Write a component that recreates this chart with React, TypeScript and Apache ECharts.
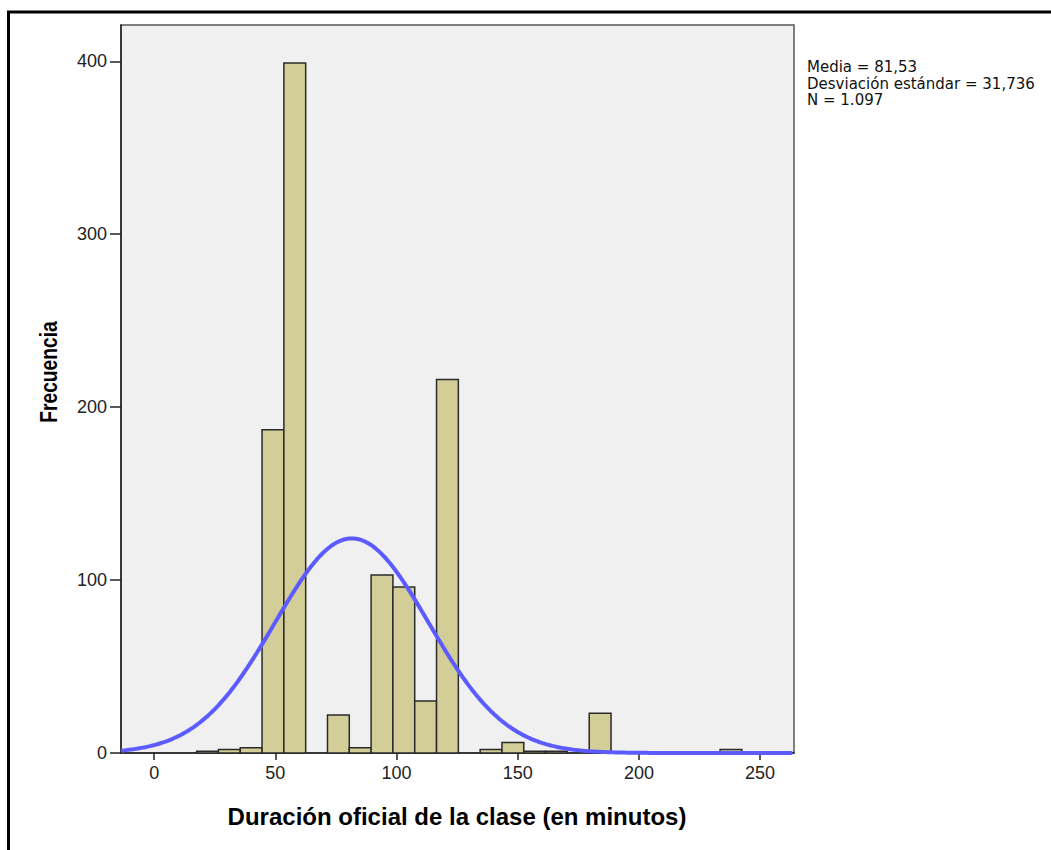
import React, { useEffect, useRef } from "react";
import * as echarts from "echarts";

// Histogram bins (lower edge, bin width 9 minutes) and frequencies
const binStarts = [17.5, 26.5, 35.5, 44.5, 53.5, 62.5, 71.5, 80.5, 89.5, 98.5, 107.5, 116.5, 125.5, 134.5, 143.5, 152.5, 161.5, 170.5, 179.5, 233.5];
const frequencies = [1, 2, 3, 187, 399, 0, 22, 3, 103, 96, 30, 216, 0, 2, 6, 1, 1, 0, 23, 2];
const BIN_WIDTH = 9;

// Summary statistics shown in the chart
const MEAN = 81.53;
const SD = 31.736;
const N = 1097;

const xTicks = [0, 50, 100, 150, 200, 250];
const yTicks = [0, 100, 200, 300, 400];

const X_MIN = -13.7;
const X_MAX = 264;
const Y_MAX = 421;

const statsLines = ["Media = 81,53", "Desviación estándar = 31,736", "N = 1.097"];

const FONT = '"Liberation Sans", Arial, sans-serif';

export default function App() {
  const ref = useRef<HTMLDivElement>(null);

  useEffect(() => {
    if (!ref.current) return;
    const chart = echarts.init(ref.current, null, { renderer: "svg" });

    const barData = binStarts.map((s, i) => [s, s + BIN_WIDTH, frequencies[i]]);

    // fitted normal curve from the stated mean / sd / N
    const curve: number[][] = [];
    for (let x = X_MIN; x <= X_MAX + 0.001; x += 1) {
      const z = (x - MEAN) / SD;
      const y = (N * BIN_WIDTH) / (SD * Math.sqrt(2 * Math.PI)) * Math.exp(-0.5 * z * z);
      curve.push([x, y]);
    }

    const statsTexts = statsLines.map((t, i) => ({
      type: "text",
      x: 807,
      y: 59 + i * 16.5,
      style: {
        text: t,
        font: '15px "DejaVu Sans", sans-serif',
        lineHeight: 16,
        fill: "#111",
        textAlign: "left",
        textVerticalAlign: "top",
      },
    }));

    chart.setOption({
      animation: false,
      backgroundColor: "#ffffff",
      grid: {
        left: 121,
        top: 25,
        width: 673,
        height: 728,
        show: true,
        backgroundColor: "#f0f0f0",
        borderColor: "#555555",
        borderWidth: 1.5,
      },
      xAxis: {
        type: "value",
        min: X_MIN,
        max: X_MAX,
        splitLine: { show: false },
        axisLine: { show: true, onZero: false, lineStyle: { color: "#222", width: 1.5 } },
        axisTick: { show: true, customValues: xTicks, length: 7, lineStyle: { color: "#222", width: 1.5 } },
        axisLabel: { customValues: xTicks, fontSize: 18, color: "#222", fontFamily: FONT, margin: 11 },
      },
      yAxis: {
        type: "value",
        min: 0,
        max: Y_MAX,
        splitLine: { show: false },
        axisLine: { show: true, onZero: false, lineStyle: { color: "#222", width: 1.5 } },
        axisTick: { show: true, customValues: yTicks, length: 11, lineStyle: { color: "#222", width: 1.5 } },
        axisLabel: { customValues: yTicks, fontSize: 18, color: "#222", fontFamily: FONT, margin: 14 },
      },
      series: [
        {
          type: "custom",
          data: barData,
          encode: { x: [0, 1], y: 2 },
          renderItem: (params: any, api: any) => {
            const s = api.value(0);
            const e = api.value(1);
            const v = api.value(2);
            if (v <= 0) return null;
            const p1 = api.coord([s, v]);
            const p2 = api.coord([e, 0]);
            return {
              type: "rect",
              shape: { x: p1[0], y: p1[1], width: p2[0] - p1[0], height: p2[1] - p1[1] },
              style: { fill: "#d3ce97", stroke: "#2a2a2a", lineWidth: 1.5 },
            };
          },
          z: 2,
        },
        {
          type: "line",
          data: curve,
          showSymbol: false,
          smooth: false,
          lineStyle: { color: "#5b5bff", width: 4 },
          z: 5,
        },
      ],
      graphic: [
        { type: "line", shape: { x1: 7, y1: 12, x2: 1051, y2: 12 }, style: { stroke: "#000", lineWidth: 3 } },
        { type: "line", shape: { x1: 8.5, y1: 11, x2: 8.5, y2: 850 }, style: { stroke: "#000", lineWidth: 3 } },
        ...statsTexts,
        {
          type: "text",
          x: 457,
          y: 816,
          style: {
            text: "Duración oficial de la clase (en minutos)",
            font: 'bold 24px "Liberation Sans", Arial, sans-serif',
            fill: "#000",
            textAlign: "center",
            textVerticalAlign: "middle",
          },
        },
        {
          type: "text",
          x: 49,
          y: 372,
          rotation: Math.PI / 2,
          scaleX: 0.8,
          style: {
            text: "Frecuencia",
            font: 'bold 24px "Liberation Sans", Arial, sans-serif',
            fill: "#000",
            textAlign: "center",
            textVerticalAlign: "middle",
          },
        },
      ],
    });

    return () => chart.dispose();
  }, []);

  return (
    <div
      ref={ref}
      style={{ position: "fixed", left: 0, top: 0, width: 1051, height: 850 }}
    />
  );
}
